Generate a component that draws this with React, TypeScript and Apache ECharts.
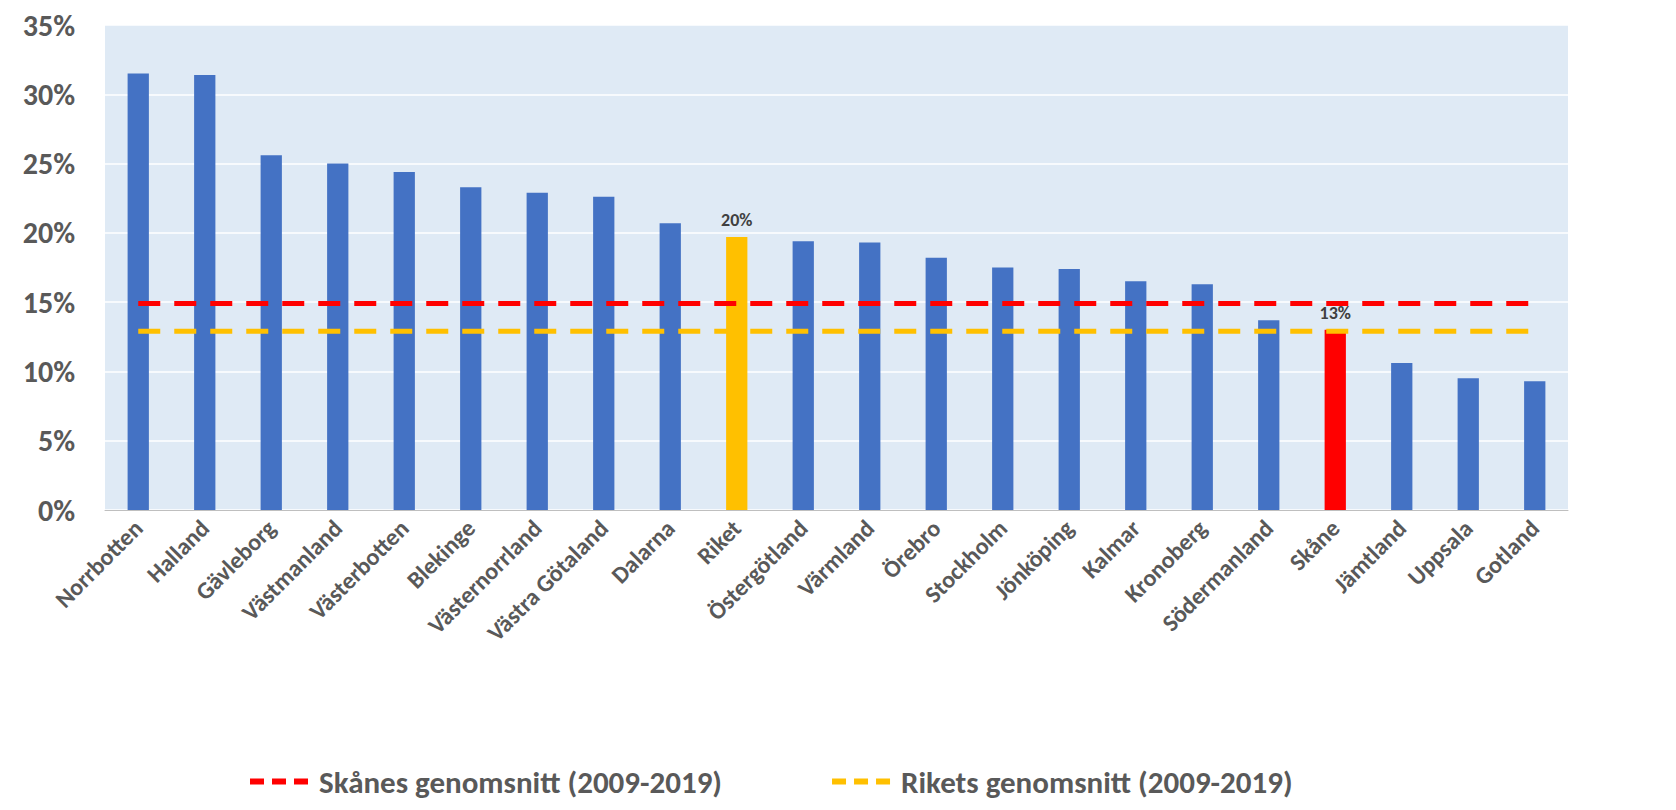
import React, { useEffect, useRef } from 'react';
import * as echarts from 'echarts';

const regions = [
  'Norrbotten', 'Halland', 'Gävleborg', 'Västmanland', 'Västerbotten', 'Blekinge',
  'Västernorrland', 'Västra Götaland', 'Dalarna', 'Riket', 'Östergötland', 'Värmland',
  'Örebro', 'Stockholm', 'Jönköping', 'Kalmar', 'Kronoberg', 'Södermanland', 'Skåne',
  'Jämtland', 'Uppsala', 'Gotland',
];
const shares = [
  31.5, 31.4, 25.6, 25.0, 24.4, 23.3, 22.9, 22.6, 20.7, 19.7, 19.4, 19.3,
  18.2, 17.5, 17.4, 16.5, 16.3, 13.7, 13.0, 10.6, 9.5, 9.3,
];
const skaneAvg = 14.9;
const riketAvg = 12.9;
const labelled = ['Riket', 'Skåne'];

const dashIcon = 'path://M0,0h14v6h-14z M22,0h14v6h-14z M44,0h14v6h-14z';

const App: React.FC = () => {
  const chartRef = useRef<HTMLDivElement | null>(null);

  useEffect(() => {
    document.body.style.margin = '0';
    if (!chartRef.current) return;
    const chart = echarts.init(chartRef.current, null, { renderer: 'svg' });
    const font = 'Calibri, Carlito, "Open Sans", sans-serif';

    chart.setOption({
      animation: false,
      textStyle: { fontFamily: font },
      grid: {
        left: 105, right: 108, top: 25, bottom: 300,
        show: true, backgroundColor: '#dfeaf5', borderWidth: 0,
      },
      legend: {
        bottom: 8,
        left: 245,
        itemWidth: 58,
        itemHeight: 6,
        itemGap: 110,
        textStyle: { fontSize: 31, fontWeight: 'bold', color: '#595959', fontFamily: font, padding: [0, 0, 0, 6] },
        data: [
          { name: 'Skånes genomsnitt (2009-2019)', icon: dashIcon },
          { name: 'Rikets genomsnitt (2009-2019)', icon: dashIcon },
        ],
      },
      xAxis: {
        type: 'category',
        data: regions,
        axisTick: { show: false },
        axisLine: { lineStyle: { color: '#bfbfbf' } },
        axisLabel: {
          rotate: 45, interval: 0, fontSize: 24, fontWeight: 'bold', color: '#595959', margin: 14,
        },
      },
      yAxis: {
        type: 'value',
        min: 0, max: 35, interval: 5,
        axisLabel: {
          formatter: '{value}%', fontSize: 30, fontWeight: 'bold', color: '#595959', margin: 30,
        },
        splitLine: { lineStyle: { color: '#ffffff', width: 1.5 } },
      },
      series: [
        {
          type: 'bar',
          barWidth: '32%',
          data: regions.map((r, i) => ({
            value: shares[i],
            itemStyle: { color: r === 'Riket' ? '#ffc000' : r === 'Skåne' ? '#ff0000' : '#4472c4' },
            label: labelled.includes(r)
              ? {
                  show: true, position: 'top', distance: 8,
                  formatter: (p: any) => Math.round(p.value) + '%',
                  fontSize: 18, fontWeight: 'bold', color: '#404040',
                }
              : { show: false },
          })),
        },
        {
          name: 'Skånes genomsnitt (2009-2019)',
          type: 'line',
          symbol: 'none',
          data: regions.map(() => skaneAvg),
          itemStyle: { color: '#ff0000' },
          lineStyle: { color: '#ff0000', width: 5, type: [22, 14] },
          z: 5,
        },
        {
          name: 'Rikets genomsnitt (2009-2019)',
          type: 'line',
          symbol: 'none',
          data: regions.map(() => riketAvg),
          itemStyle: { color: '#ffc000' },
          lineStyle: { color: '#ffc000', width: 5, type: [22, 14] },
          z: 5,
        },
      ],
    });

    return () => chart.dispose();
  }, []);

  return <div ref={chartRef} style={{ width: 1676, height: 810 }} />;
};

export default App;
